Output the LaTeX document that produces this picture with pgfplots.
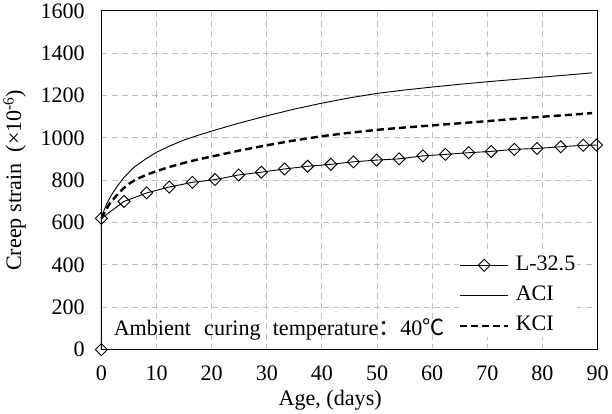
\documentclass[border=0pt]{standalone}
\usepackage{fontspec}
\setmainfont{Liberation Serif}
\newfontfamily\cjk{Noto Sans CJK SC}
\usepackage{pgfplots}
\pgfplotsset{compat=1.18}

% measured L-32.5 creep strain
\pgfplotstableread{
t eps
0 0
0 620
4.1 700
8.2 740
12.3 768
16.5 790
20.6 803
24.9 825
29.0 838
33.2 853
37.4 866
41.6 875
45.7 887
49.9 895
54.0 901
58.3 915
62.4 922
66.6 930
70.7 936
74.9 946
79.0 950
83.3 958
87.4 965
89.8 966
}\measured

\pgfplotstableread{
t eps
0 620
0.5 660
1 690
1.5 715
2 738
3 776
4 810
5 838
6 863
8 900
10 932
12.5 963
15 990
17.5 1012
20 1032
25 1070
30 1104
35 1136
40 1164
45 1189
50 1210
55 1226
60 1240
65 1253
70 1265
75 1276
80 1287
85 1298
89 1307
}\aci

\pgfplotstableread{
t eps
0 620
0.5 645
1 668
1.5 690
2 706
3 735
4 762
5 783
6 800
8 824
10 843
12.5 864
15 882
17.5 898
20 912
25 940
30 965
35 988
40 1008
45 1024
50 1038
55 1049
60 1059
65 1069
70 1079
75 1090
80 1100
85 1109
89 1117
}\kci

\newcommand\bigfont{\fontsize{22}{26}\selectfont}

\begin{document}
\begin{tikzpicture}
\begin{axis}[
  at={(106bp,64bp)}, anchor=south west,
  scale only axis, width=492bp, height=336bp,
  xmin=0, xmax=90, ymin=0, ymax=1600,
  xtick={0,10,...,90}, ytick={0,200,...,1600},
  xmajorgrids=true, ymajorgrids=true,
  major grid style={draw=black!25, dash pattern=on 6bp off 4bp, line width=1bp},
  major tick style={draw=none},
  axis line style={line width=1.3bp},
  tick label style={font=\bigfont},
  label style={font=\bigfont},
  /pgf/number format/assume math mode=true,
  /pgf/number format/1000 sep={},
  yticklabel style={xshift=-13bp},
  xticklabel style={yshift=-12bp},
  xlabel={Age,\ (days)},
  ylabel={Creep strain\ \ (×10\textsuperscript{-6})},
  xlabel style={at={(axis description cs:0.461,-0.149)}, anchor=center},
  ylabel style={at={(axis description cs:-0.175,0.5)}, anchor=center},
  clip=false,
  legend cell align=left,
  legend image code/.code={\draw[mark repeat=2,mark phase=2,#1] plot coordinates {(0bp,0bp)(24bp,0bp)(48bp,0bp)};},
  legend style={at={(axis cs:64.8,452)}, anchor=north west, draw=none, fill=white,
    inner sep=0pt, row sep=8bp, font=\bigfont,
    nodes={inner sep=2bp, text height=14bp, text depth=4bp},
    /tikz/every odd column/.append style={column sep=4bp}},
]
\addplot[black, line width=0.9bp, mark=square, mark size=4.2bp,
  mark options={rotate=45, fill=white, solid, line width=0.9bp}] table {\measured};
\addlegendentry{L-32.5}
\addplot[black, line width=0.9bp] table {\aci};
\addlegendentry{ACI}
\addplot[black, line width=2.4bp, dash pattern=on 7bp off 4bp] table {\kci};
\addlegendentry{KCI}
\node[anchor=base west, inner sep=0bp, font=\bigfont] at (axis cs:2.2,67)
  {Ambient\hspace{13bp}curing\hspace{12bp}temperature{\cjk ：}40{\cjk ℃}};
\end{axis}
\end{tikzpicture}
\end{document}
